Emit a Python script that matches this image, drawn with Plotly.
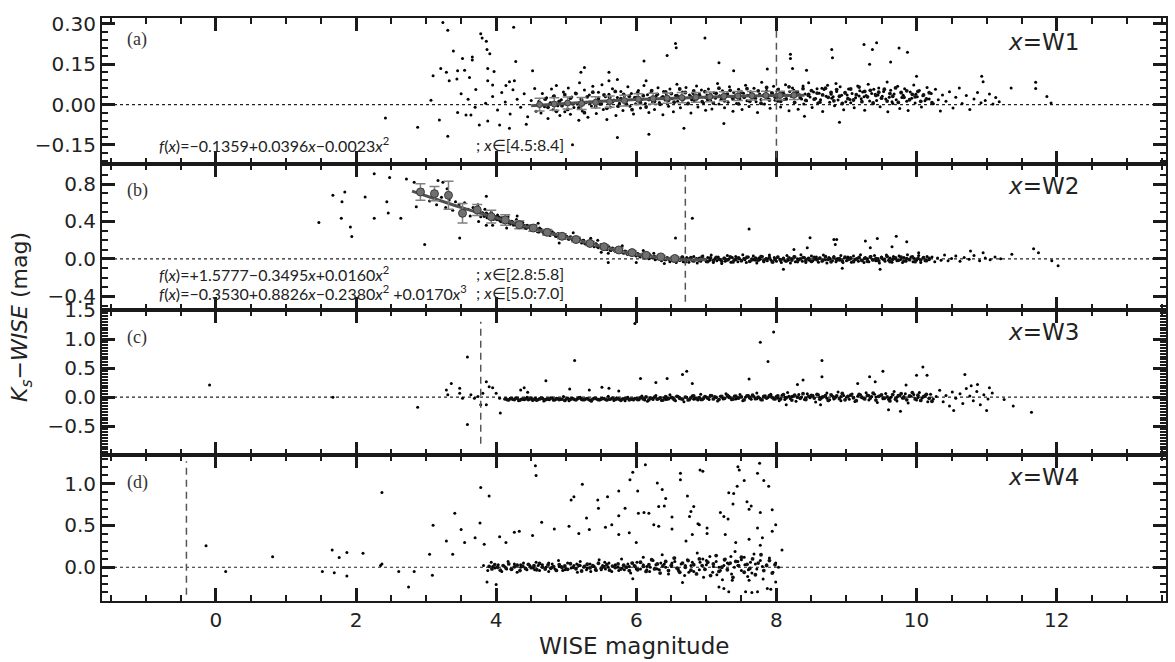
import plotly.graph_objects as go
from plotly.subplots import make_subplots

# ---------------- data ----------------
# panel (a): x = W1
a_x = [2.42, 3.24, 3.31, 3.78, 3.80, 3.86, 3.39, 3.52, 3.66, 3.66, 3.87, 3.91, 4.25, 4.28, 3.21, 3.29, 3.10, 3.45,
       3.55, 3.62, 3.33, 3.44, 3.71, 3.88, 3.97, 4.52, 3.88, 3.95, 4.19, 4.26, 4.14, 3.07, 3.19, 2.88, 3.31, 3.45,
       3.57, 3.64, 3.76, 3.88, 4.05, 4.19, 4.43, 6.11, 6.44, 6.56, 6.57, 6.98, 7.18, 7.39, 7.87, 5.26, 5.21, 5.61,
       5.73, 6.14, 5.61, 7.25, 6.18, 5.73, 6.68, 5.09,
       8.20, 8.20, 8.23, 8.43, 8.79, 8.80, 9.25, 9.37, 9.43, 9.33, 9.63, 9.75, 9.87, 10.0, 10.93, 10.95, 8.90, 8.40,
       11.35, 11.70, 11.70, 11.86, 11.92,
       3.95, 4.02, 4.08, 4.13, 4.20, 4.24, 4.30, 4.35, 4.40, 4.45, 4.50, 4.55, 4.57, 3.60, 3.70, 3.85, 3.50,
       4.61, 4.64, 4.66, 4.69, 4.72, 4.74, 4.77, 4.79, 4.81, 4.83, 4.86, 4.88, 4.91, 4.93, 4.96, 4.98,
       5.01, 5.03, 5.06, 5.08, 5.11, 5.13, 5.16, 5.18, 5.19, 5.21, 5.23, 5.26, 5.28, 5.31, 5.33, 5.36, 5.38,
       5.41, 5.43, 5.46, 5.48, 5.51, 5.53, 5.56, 5.58, 5.59, 5.61, 5.63, 5.66, 5.68, 5.71, 5.73, 5.76, 5.78,
       5.81, 5.83, 5.86, 5.88, 5.91, 5.93, 5.96, 5.98, 5.99, 6.01, 6.03, 6.06, 6.08, 6.11, 6.13, 6.16, 6.18, 6.19,
       6.21, 6.23, 6.26, 6.28, 6.31, 6.33, 6.36, 6.38, 6.39, 6.41, 6.43, 6.46, 6.48, 6.51, 6.53, 6.56, 6.58, 6.59,
       6.61, 6.63, 6.66, 6.68, 6.71, 6.73, 6.76, 6.78, 6.79, 6.81, 6.83, 6.86, 6.88, 6.91, 6.93, 6.96, 6.98, 6.99,
       7.01, 7.03, 7.06, 7.08, 7.11, 7.13, 7.16, 7.18, 7.19, 7.21, 7.23, 7.26, 7.28, 7.31, 7.33, 7.36, 7.38, 7.39,
       7.41, 7.43, 7.46, 7.48, 7.51, 7.53, 7.56, 7.58, 7.59, 7.61, 7.63, 7.66, 7.68, 7.71, 7.73, 7.76, 7.78, 7.79,
       7.81, 7.83, 7.86, 7.88, 7.91, 7.93, 7.96, 7.98, 7.99,
       8.01, 8.03, 8.06, 8.08, 8.11, 8.13, 8.16, 8.18, 8.19, 8.02, 8.21, 8.23, 8.26, 8.28, 8.31, 8.33, 8.36, 8.38,
       8.39, 8.25, 8.41, 8.43, 8.46, 8.48, 8.51, 8.53, 8.56, 8.58, 8.59, 8.45, 8.61, 8.63, 8.66, 8.68, 8.71, 8.73,
       8.76, 8.78, 8.79, 8.65, 8.81, 8.83, 8.86, 8.88, 8.91, 8.93, 8.96, 8.98, 8.99, 8.85,
       9.01, 9.03, 9.06, 9.08, 9.11, 9.13, 9.16, 9.18, 9.19, 9.05, 9.21, 9.23, 9.26, 9.28, 9.31, 9.33, 9.36, 9.38,
       9.39, 9.25, 9.41, 9.43, 9.46, 9.48, 9.51, 9.53, 9.56, 9.58, 9.59, 9.45, 9.61, 9.63, 9.66, 9.68, 9.71, 9.73,
       9.76, 9.78, 9.79, 9.65, 9.81, 9.83, 9.86, 9.88, 9.91, 9.93, 9.96, 9.98, 9.99,
       10.01, 10.04, 10.07, 10.09, 10.12, 10.15, 10.18, 10.21, 10.24, 10.27, 10.31, 10.34, 10.37,
       10.42, 10.47, 10.52, 10.56, 10.61, 10.65, 10.71, 10.76, 10.82, 10.87, 10.92, 10.98, 11.04, 11.09, 11.13, 11.18]
a_y = [-0.050, 0.305, 0.276, 0.263, 0.248, 0.236, 0.199, 0.171, 0.177, 0.166, 0.205, 0.189, 0.288, 0.160, 0.134,
       0.120, 0.107, 0.126, 0.128, 0.101, 0.089, 0.095, 0.056, 0.134, 0.123, 0.126, 0.089, 0.073, 0.085, 0.089,
       0.071, 0.016, -0.057, -0.084, -0.118, -0.029, -0.039, -0.039, -0.076, -0.061, -0.076, -0.088, -0.073,
       0.162, 0.183, 0.227, 0.211, 0.248, 0.156, 0.126, 0.132, 0.138, 0.120, 0.120, 0.093, 0.089, 0.089, -0.070,
       -0.110, -0.122, -0.088, -0.149,
       0.187, 0.171, 0.134, 0.128, 0.205, 0.174, 0.223, 0.205, 0.230, 0.150, 0.158, 0.210, 0.195, 0.105, 0.105,
       0.085, -0.066, -0.043,
       0.062, 0.083, 0.060, 0.030, 0.006,
       0.030, -0.020, 0.045, 0.010, -0.035, 0.055, 0.020, -0.010, 0.040, -0.045, 0.015, 0.060, -0.025, 0.020,
       -0.010, 0.005, 0.040,
       0.012, -0.031, 0.041, -0.008, 0.025, -0.052, 0.006, 0.058, -0.019, 0.033, 0.071, -0.004, -0.041, 0.018,
       0.047, -0.027,
       0.009, 0.062, -0.036, 0.028, -0.011, 0.043, 0.002, -0.058, 0.081, 0.021, -0.024, 0.054, 0.007, -0.047,
       0.036, -0.005, 0.068,
       0.015, -0.033, 0.046, 0.001, 0.074, -0.018, 0.029, -0.055, 0.011, 0.038, -0.009, 0.059, 0.017, -0.041,
       0.026, 0.005, 0.049,
       -0.022, 0.033, 0.012, 0.066, -0.006, 0.041, -0.035, 0.021, 0.003, 0.028, 0.052, -0.013, 0.019, 0.071,
       0.004, 0.037, -0.029, 0.024,
       0.045, 0.011, -0.018, 0.031, 0.063, 0.008, 0.026, -0.038, 0.049, 0.017, 0.039, -0.006, 0.058, 0.022,
       -0.027, 0.034, 0.076, 0.012,
       0.029, -0.012, 0.047, 0.021, 0.064, 0.003, 0.036, -0.031, 0.018, 0.041, 0.013, 0.069, -0.009, 0.032,
       0.054, 0.006, 0.027, -0.021,
       0.036, 0.058, 0.015, -0.016, 0.044, 0.024, 0.078, 0.002, 0.033, 0.019, 0.051, -0.012, 0.038, 0.009,
       0.066, 0.028, -0.025, 0.045,
       0.031, 0.004, 0.057, 0.021, -0.018, 0.042, 0.072, 0.014, 0.035, -0.007, 0.048, 0.026, 0.061, 0.011,
       -0.029, 0.039, 0.019, 0.083,
       0.033, 0.002, 0.052, 0.024, -0.014, 0.044, 0.068, 0.016, 0.037,
       0.027, 0.058, -0.009, 0.041, 0.019, 0.074, 0.035, -0.023, 0.049, 0.012, 0.031, 0.062, 0.008, 0.045,
       -0.017, 0.037, 0.021, 0.069, 0.002, 0.053, 0.039, 0.014, 0.081, 0.028, -0.011, 0.047, 0.023, 0.059,
       0.006, 0.034, 0.042, 0.018, -0.026, 0.056, 0.031, 0.072, 0.009, 0.038, 0.024, 0.061, 0.029, -0.004,
       0.049, 0.017, 0.066, 0.035, -0.019, 0.043, 0.011, 0.078,
       0.036, 0.058, 0.007, 0.041, -0.012, 0.025, 0.069, 0.032, 0.051, 0.019, 0.022, 0.047, -0.021, 0.034,
       0.076, 0.013, 0.041, 0.003, 0.057, 0.029, 0.038, 0.015, 0.062, -0.008, 0.031, 0.049, 0.021, 0.084,
       -0.027, 0.036, 0.027, 0.053, 0.004, 0.039, 0.018, 0.068, -0.015, 0.044, 0.026, 0.011, 0.035, 0.059,
       0.012, -0.022, 0.047, 0.024, 0.073, 0.006, 0.038,
       0.029, 0.052, -0.009, 0.033, 0.014, 0.064, 0.021, 0.041, 0.003, 0.057, 0.018, -0.024, 0.036,
       0.012, 0.048, -0.013, 0.027, 0.062, 0.004, 0.034, -0.018, 0.021, 0.045, 0.007, 0.015, 0.039, 0.002,
       0.026, 0.011]
# dense core of the (a) band
a_core_x = [4.70, 4.74, 4.78, 4.82, 4.86, 4.90, 4.94, 4.98, 5.02, 5.06, 5.10, 5.14, 5.18, 5.22, 5.26, 5.30, 5.34,
            5.38, 5.42, 5.46, 5.50, 5.54, 5.58, 5.62, 5.66, 5.70, 5.74, 5.78, 5.82, 5.86, 5.90, 5.94, 5.98, 6.02,
            6.06, 6.10, 6.14, 6.18, 6.22, 6.26, 6.30, 6.34, 6.38, 6.42, 6.46, 6.50, 6.54, 6.58, 6.62, 6.66, 6.70,
            6.74, 6.78, 6.82, 6.86, 6.90, 6.94, 6.98, 7.02, 7.06, 7.10, 7.14, 7.18, 7.22, 7.26, 7.30, 7.34, 7.38,
            7.42, 7.46, 7.50, 7.54, 7.58, 7.62, 7.66, 7.70, 7.74, 7.78, 7.82, 7.86, 7.90, 7.94, 7.98, 8.02, 8.06,
            8.10, 8.14, 8.18, 8.22, 8.26, 8.30, 8.34, 8.38, 8.42, 8.46, 8.50, 8.54, 8.58, 8.62, 8.66, 8.70, 8.74,
            8.78, 8.82, 8.86, 8.90, 8.94, 8.98, 9.02, 9.06, 9.10, 9.14, 9.18, 9.22, 9.26, 9.30, 9.34, 9.38, 9.42,
            9.46, 9.50, 9.54, 9.58, 9.62, 9.66, 9.70, 9.74, 9.78, 9.82, 9.86, 9.90, 9.94, 9.98, 10.02, 10.06,
            10.10, 10.14, 10.18, 10.22, 10.26]
a_core_y = [0.02, -0.01, 0.005, 0.03, -0.025, 0.012, -0.004, 0.037,
            -0.018, 0.024, 0.003, 0.041, -0.012, 0.017, -0.03, 0.029, 0.008, 0.046, -0.008, 0.021,
            0.003, 0.036, -0.014, 0.027, 0.011, 0.049, -0.006, 0.022, 0.038, 0.001, 0.031, -0.019,
            0.026, 0.044, 0.007, 0.033, -0.009, 0.019, 0.052, 0.012, 0.038, 0.001, 0.029, 0.047, 0.016,
            0.041, 0.009, 0.033, 0.058, 0.018, 0.045, 0.004, 0.029, 0.051, 0.022, 0.037, 0.011,
            0.048, 0.019, 0.036, 0.006, 0.042, 0.061, 0.025, 0.014, 0.039, 0.053, 0.021, 0.032, 0.003,
            0.046, 0.027, 0.059, 0.012, 0.038, 0.022, 0.051, 0.005, 0.034, 0.064, 0.017, 0.043,
            0.028, 0.055, 0.012, 0.041, 0.021, 0.066, 0.033, 0.008, 0.047, 0.025, 0.059, 0.016, 0.038,
            0.052, 0.02, 0.043, 0.009, 0.036, 0.061, 0.027, 0.045, 0.014, 0.056, 0.031, 0.004,
            0.044, 0.022, 0.058, 0.017, 0.037, 0.065, 0.011, 0.049, 0.029, 0.053, 0.006, 0.034, 0.046,
            0.024, 0.057, 0.013, 0.041, 0.031, 0.062, 0.008, 0.045, 0.027, 0.051, 0.018, 0.038,
            0.029, 0.049, 0.012, 0.036, 0.021, 0.044, 0.007]
a_fit_x = [4.5, 5.0, 5.5, 6.0, 6.5, 7.0, 7.5, 8.0, 8.4]
a_fit_y = [-0.004, 0.005, 0.012, 0.019, 0.024, 0.029, 0.032, 0.034, 0.035]
a_bin_x = [4.62, 4.83, 5.02, 5.22, 5.42, 5.62, 5.83, 6.03, 6.24, 6.44, 6.65, 6.85, 7.05, 7.25, 7.45, 7.65, 7.85,
           8.05, 8.25]
a_bin_y = [0.000, 0.002, 0.006, 0.004, 0.008, 0.011, 0.015, 0.020, 0.022, 0.024, 0.026, 0.027, 0.029, 0.031,
           0.032, 0.033, 0.034, 0.034, 0.035]
a_bin_err = [0.024, 0.023, 0.022, 0.022, 0.021, 0.021, 0.020, 0.020, 0.020, 0.019, 0.019, 0.018, 0.018, 0.017,
             0.017, 0.016, 0.016, 0.016, 0.016]

# panel (b): x = W2
b_x = [1.47, 1.67, 1.84, 1.80, 2.13, 1.79, 1.92, 1.94, 2.26, 2.44, 2.46, 2.26, 2.48,
       2.72, 2.83, 3.17, 3.24, 2.86, 2.98, 3.48, 3.86, 2.64, 6.80, 7.61, 6.56, 5.60,
       8.48, 8.82, 8.86, 8.84, 9.27, 9.44, 9.71, 9.86, 9.34, 9.65, 8.25, 8.44, 11.67, 11.74, 12.02, 8.10, 8.94,
       9.48, 10.95, 11.36, 10.77, 10.03, 11.93,
       2.95, 3.05, 3.10, 3.15, 3.22, 3.28, 3.33, 3.38, 3.42, 3.47, 3.52, 3.55, 3.60, 3.63, 3.67, 3.71, 3.74,
       3.78, 3.81, 3.84, 3.87, 3.90, 3.93, 3.96, 3.99, 4.02, 4.05, 4.08, 4.11, 4.14, 4.17, 4.20, 4.23, 4.26,
       4.29, 4.32, 4.35, 4.38, 4.41, 4.44, 4.47, 4.50, 4.53, 4.56, 4.59, 4.62, 4.65, 4.68, 4.71, 4.74, 4.77,
       4.80, 4.83, 4.86, 4.89, 4.92, 4.95, 4.98, 5.01, 5.04, 5.07, 5.10, 5.13, 5.16, 5.19, 5.22, 5.25, 5.28,
       5.31, 5.34, 5.37, 5.40, 5.43, 5.46, 5.49, 5.52, 5.55, 5.58, 5.61, 5.64, 5.67, 5.70, 5.73, 5.76, 5.79,
       5.82, 5.85, 5.88, 5.91, 5.94, 5.97, 6.00, 6.03, 6.06, 6.09, 6.12, 6.15, 6.18, 6.21, 6.24, 6.27, 6.30,
       6.33, 6.36, 6.39, 6.42, 6.45, 6.48, 6.51,
       3.30, 3.86, 5.35, 4.60, 4.30, 5.80, 6.10, 5.10, 4.90, 5.60, 6.00, 4.15, 3.95, 3.75, 5.45, 6.25, 6.40, 5.50,
       6.52, 6.55, 6.57, 6.60, 6.62, 6.65, 6.67, 6.70, 6.72, 6.75, 6.77, 6.80, 6.82, 6.85, 6.87, 6.90, 6.92,
       6.95, 6.97, 7.00, 7.02, 7.05, 7.07, 7.10, 7.12, 7.15, 7.17, 7.20, 7.22, 7.25, 7.27, 7.30, 7.32, 7.35,
       7.37, 7.40, 7.42, 7.45, 7.47, 7.50, 7.52, 7.55, 7.57, 7.60, 7.62, 7.65, 7.67, 7.70, 7.72, 7.75, 7.77,
       7.80, 7.82, 7.85, 7.87, 7.90, 7.92, 7.95, 7.97, 8.00, 8.02, 8.05, 8.07, 8.10, 8.12, 8.15, 8.17, 8.20,
       8.22, 8.25, 8.27, 8.30, 8.32, 8.35, 8.37, 8.40, 8.42, 8.45, 8.47, 8.50, 8.52, 8.55, 8.57, 8.60, 8.62,
       8.65, 8.67, 8.70, 8.72, 8.75, 8.77, 8.80, 8.82, 8.85, 8.87, 8.90, 8.92, 8.95, 8.97, 9.00, 9.02, 9.05,
       9.07, 9.10, 9.12, 9.15, 9.17, 9.20, 9.22, 9.25, 9.27, 9.30, 9.32, 9.35, 9.37, 9.40, 9.42, 9.45, 9.47,
       9.50, 9.52, 9.55, 9.57, 9.60, 9.62, 9.65, 9.67, 9.70, 9.72, 9.75, 9.77, 9.80, 9.82, 9.85, 9.87, 9.90,
       9.92, 9.95, 9.97, 10.00, 10.03, 10.06, 10.09, 10.12, 10.15, 10.18,
       10.22, 10.26, 10.30, 10.35, 10.40, 10.45, 10.50, 10.56, 10.62, 10.68, 10.75, 10.82, 10.90, 10.98, 11.05,
       11.12, 11.20]
b_y = [0.39, 0.68, 0.716, 0.61, 0.663, 0.435, 0.34, 0.24, 0.435, 0.61, 0.49, 0.91, 0.87,
       0.856, 0.82, 0.84, 0.82, 0.558, 0.154, 0.224, 0.67, 0.435, 0.435, 0.319, 0.224, -0.04,
       0.225, 0.207, 0.207, 0.154, 0.19, 0.218, 0.243, 0.183, 0.119, 0.13, 0.101, 0.119, 0.108, 0.066, -0.074,
       -0.11, -0.10, -0.11, 0.066, 0.05, 0.084, 0.066, -0.021,
       0.74, 0.62, 0.71, 0.58, 0.66, 0.55, 0.63, 0.52, 0.61, 0.58, 0.49, 0.60, 0.53, 0.46, 0.55, 0.51, 0.58,
       0.45, 0.49, 0.53, 0.44, 0.47, 0.50, 0.42, 0.45, 0.47, 0.41, 0.44, 0.39, 0.42, 0.45, 0.37, 0.40, 0.38,
       0.42, 0.35, 0.37, 0.39, 0.33, 0.36, 0.34, 0.31, 0.35, 0.32, 0.29, 0.33, 0.30, 0.27, 0.31, 0.28, 0.25,
       0.29, 0.26, 0.24, 0.27, 0.23, 0.25, 0.22, 0.24, 0.21, 0.23, 0.20, 0.22, 0.19, 0.21, 0.17, 0.20, 0.16,
       0.18, 0.15, 0.17, 0.13, 0.16, 0.12, 0.15, 0.11, 0.14, 0.10, 0.13, 0.09, 0.11, 0.08, 0.10, 0.07, 0.09,
       0.06, 0.08, 0.05, 0.07, 0.04, 0.06, 0.03, 0.05, 0.02, 0.04, 0.01, 0.03, 0.00, 0.02, 0.01, -0.01, 0.02,
       0.00, -0.02, 0.01, -0.01, 0.00, -0.03, 0.01,
       0.75, 0.36, 0.22, 0.38, 0.46, 0.14, 0.09, 0.28, 0.17, 0.06, -0.04, 0.33, 0.36, 0.40, 0.20, 0.06, -0.05, 0.07,
       -0.02, 0.01, -0.04, 0.00, -0.015, 0.02, -0.03, -0.005, 0.015, -0.035, 0.005, -0.02, 0.025, -0.01, -0.045,
       0.01, -0.025, 0.03, -0.005, -0.03, 0.015, -0.015, 0.04, -0.04, 0.00, -0.02, 0.02, -0.01, -0.05, 0.01,
       -0.025, 0.035, -0.005, -0.035, 0.015, -0.015, 0.025, -0.03, 0.005, -0.02, 0.045, -0.01, -0.04, 0.02,
       -0.025, 0.00, 0.03, -0.015, -0.045, 0.01, -0.005, 0.025, -0.03, 0.005, -0.02, 0.04, -0.01, -0.035,
       0.015, -0.025, 0.02, -0.005, -0.04, 0.01, -0.02, 0.035, -0.015, -0.045, 0.005, 0.025, -0.03, 0.00,
       -0.01, 0.045, -0.025, 0.015, -0.04, 0.005, -0.015, 0.03, -0.02, -0.005, 0.02, -0.035, 0.01, -0.025,
       0.04, -0.01, -0.045, 0.015, 0.00, -0.02, 0.025, -0.03, 0.005, -0.015, 0.035, -0.04, 0.01, -0.02, 0.02,
       -0.005, -0.035, 0.03, -0.01, 0.005, -0.025, 0.045, -0.015, -0.04, 0.015, 0.00, -0.03, 0.025, -0.01,
       0.035, -0.02, 0.005, -0.045, 0.02, -0.005, -0.025, 0.04, -0.015, 0.01, -0.035, 0.025, 0.00, -0.02,
       0.03, -0.01, -0.04, 0.015, -0.025, 0.045, -0.005, 0.02, -0.03, 0.005, -0.015, 0.035, -0.04, 0.01,
       -0.02, 0.025, -0.01,
       0.02, -0.03, 0.01, -0.015, 0.04, -0.02, 0.005, 0.03, -0.025, 0.015, -0.005, 0.035, -0.02, 0.01, -0.01,
       0.02, 0.00]
# dense core of the (b) sequence: along the curve, then the flat part
b_core_x = [3.80, 3.83, 3.86, 3.89, 3.92, 3.95, 3.98, 4.01, 4.04, 4.07, 4.10, 4.13, 4.16, 4.19, 4.22, 4.25, 4.28,
            4.31, 4.34, 4.37, 4.40, 4.43, 4.46, 4.49, 4.52, 4.55, 4.58, 4.61, 4.64, 4.67, 4.70, 4.73, 4.76, 4.79,
            4.82, 4.85, 4.88, 4.91, 4.94, 4.97, 5.00, 5.03, 5.06, 5.09, 5.12, 5.15, 5.18, 5.21, 5.24, 5.27, 5.30,
            5.33, 5.36, 5.39, 5.42, 5.45, 5.48, 5.51, 5.54, 5.57, 5.60, 5.63, 5.66, 5.69, 5.72, 5.75, 5.78, 5.81,
            5.84, 5.87, 5.90, 5.93, 5.96, 5.99, 6.02, 6.05, 6.08, 6.11, 6.14, 6.17, 6.20, 6.23, 6.26, 6.29, 6.32,
            6.35, 6.38, 6.41, 6.44, 6.47, 6.50,
            6.54, 6.58, 6.62, 6.66, 6.70, 6.74, 6.78, 6.82, 6.86, 6.90, 6.94, 6.98, 7.02, 7.06, 7.10, 7.14, 7.18,
            7.22, 7.26, 7.30, 7.34, 7.38, 7.42, 7.46, 7.50, 7.54, 7.58, 7.62, 7.66, 7.70, 7.74, 7.78, 7.82, 7.86,
            7.90, 7.94, 7.98, 8.02, 8.06, 8.10, 8.14, 8.18, 8.22, 8.26, 8.30, 8.34, 8.38, 8.42, 8.46, 8.50, 8.54,
            8.58, 8.62, 8.66, 8.70, 8.74, 8.78, 8.82, 8.86, 8.90, 8.94, 8.98, 9.02, 9.06, 9.10, 9.14, 9.18, 9.22,
            9.26, 9.30, 9.34, 9.38, 9.42, 9.46, 9.50, 9.54, 9.58, 9.62, 9.66, 9.70, 9.74, 9.78, 9.82, 9.86, 9.90,
            9.94, 9.98, 10.02, 10.06, 10.10, 10.14, 10.18]
b_core_y = [0.490, 0.459, 0.487, 0.455, 0.466, 0.429, 0.446, 0.424, 0.443, 0.401, 0.418, 0.395, 0.415, 0.388,
            0.398, 0.365, 0.383, 0.365, 0.381, 0.344, 0.355, 0.329, 0.349, 0.324, 0.339, 0.309, 0.316, 0.291,
            0.313, 0.291, 0.298, 0.270, 0.292, 0.265, 0.273, 0.245, 0.265, 0.244, 0.252, 0.222, 0.238, 0.216,
            0.233, 0.210, 0.218, 0.188, 0.206, 0.185, 0.195, 0.165, 0.176, 0.151, 0.168, 0.148, 0.158, 0.130,
            0.139, 0.116, 0.133, 0.112, 0.120, 0.095, 0.111, 0.092, 0.099, 0.076, 0.091, 0.071, 0.080, 0.056,
            0.068, 0.048, 0.062, 0.044, 0.052, 0.030, 0.045, 0.028, 0.036, 0.017, 0.032, 0.015, 0.024, 0.003,
            0.019, 0.003, 0.012, -0.006, 0.011, -0.005, 0.005,
            -0.02, 0.005, -0.012, 0.018, -0.03, -0.004, 0.012, -0.022, 0.0, -0.015,
            0.022, -0.008, -0.028, 0.009, -0.018, 0.015, -0.002, -0.025, 0.006, -0.011,
            0.02, -0.033, -0.006, 0.011, -0.019, 0.003, 0.017, -0.026, -0.009, 0.008,
            -0.014, 0.024, -0.021, -0.003, 0.013, -0.031, -0.007, 0.019, -0.016, 0.002,
            -0.024, 0.01, -0.012, 0.021, -0.029, -0.001, 0.014, -0.02, 0.004, -0.027,
            0.016, -0.01, 0.007, -0.018, 0.023, -0.005, -0.032, 0.012, -0.013, 0.001,
            -0.023, 0.018, -0.008, 0.009, -0.03, -0.002, 0.015, -0.017, 0.005, -0.026,
            0.02, -0.011, 0.003, -0.021, 0.013, -0.006, 0.025, -0.028, -0.004, 0.01,
            -0.015, 0.017, -0.022, 0.001, -0.009, 0.022, -0.03, 0.006, -0.013, 0.012,
            -0.019, 0.004]
b_fit_x = [2.8, 3.0, 3.2, 3.4, 3.6, 3.8, 4.0, 4.2, 4.4, 4.6, 4.8, 5.0, 5.2, 5.4, 5.6, 5.8, 6.0, 6.2, 6.4, 6.6,
           6.8, 7.0]
b_fit_y = [0.725, 0.673, 0.623, 0.574, 0.527, 0.481, 0.436, 0.392, 0.350, 0.309, 0.269, 0.232, 0.191, 0.150,
           0.111, 0.077, 0.047, 0.022, 0.004, -0.008, -0.011, -0.006]
b_bin_x = [2.92, 3.12, 3.32, 3.52, 3.73, 3.93, 4.13, 4.33, 4.53, 4.73, 4.94, 5.14, 5.34, 5.54, 5.75, 5.94, 6.14,
           6.35, 6.55]
b_bin_y = [0.716, 0.698, 0.680, 0.488, 0.523, 0.452, 0.417, 0.365, 0.330, 0.284, 0.242, 0.207, 0.165, 0.130,
           0.095, 0.067, 0.039, 0.021, 0.004]
b_bin_err = [0.088, 0.077, 0.150, 0.105, 0.058, 0.067, 0.056, 0.044, 0.035, 0.030, 0.028, 0.025, 0.022, 0.020,
             0.020, 0.018, 0.018, 0.016, 0.016]

# panel (c): x = W3
c_x = [-0.09, 1.67, 3.59, 5.12, 5.98, 6.06, 6.28, 6.44, 6.66, 6.72, 7.77, 7.88, 7.96, 7.61, 6.80, 4.71, 5.05,
       5.33, 5.51, 5.61, 5.75, 3.59, 4.06, 2.88, 3.36, 3.29, 3.48, 3.86, 3.90, 3.95, 4.00, 4.05, 3.86, 4.40, 4.45,
       4.35, 3.64, 3.69, 3.74, 3.81, 3.78, 3.48, 3.31, 3.52,
       8.65, 8.65, 8.30, 8.38, 9.33, 9.52, 10.09, 10.0, 10.15, 10.69, 10.78, 10.87, 11.04, 9.16, 9.41, 9.85, 9.60,
       9.77, 10.53, 11.0, 8.63, 8.14,
       4.12, 4.16, 4.20, 4.24, 4.28, 4.32, 4.36, 4.40, 4.44, 4.48, 4.52, 4.56, 4.60, 4.64, 4.68, 4.72, 4.76,
       4.80, 4.84, 4.88, 4.92, 4.96, 5.00, 5.04, 5.08, 5.12, 5.16, 5.20, 5.24, 5.28, 5.32, 5.36, 5.40, 5.44,
       5.48, 5.52, 5.56, 5.60, 5.64, 5.68, 5.72, 5.76, 5.80, 5.84, 5.88, 5.92, 5.96, 6.00, 6.04, 6.08, 6.12,
       6.16, 6.20, 6.24, 6.28, 6.32, 6.36, 6.40, 6.44, 6.48, 6.52, 6.56, 6.60, 6.64, 6.68, 6.72, 6.76, 6.80,
       6.84, 6.88, 6.92, 6.96, 7.00, 7.04, 7.08, 7.12, 7.16, 7.20, 7.24, 7.28, 7.32, 7.36, 7.40, 7.44, 7.48,
       7.52, 7.56, 7.60, 7.64, 7.68, 7.72, 7.76, 7.80, 7.84, 7.88, 7.92, 7.96, 8.00, 8.04, 8.08, 8.12, 8.16,
       8.20, 8.24, 8.28, 8.32, 8.36, 8.40, 8.44, 8.48, 8.52, 8.56, 8.60, 8.64, 8.68, 8.72, 8.76, 8.80, 8.84,
       8.88, 8.92, 8.96, 9.00, 9.04, 9.08, 9.12, 9.16, 9.20, 9.24, 9.28, 9.32, 9.36, 9.40, 9.44, 9.48, 9.52,
       9.56, 9.60, 9.64, 9.68, 9.72, 9.76, 9.80, 9.84, 9.88, 9.92, 9.96, 10.00, 10.04, 10.08, 10.12, 10.16,
       10.20, 10.24, 10.28,
       6.02, 6.22, 6.42, 6.62, 6.82, 7.02, 7.22, 7.42, 7.62, 7.82, 8.02, 8.22, 8.42, 8.62, 8.82, 9.02, 9.22,
       9.42, 9.62, 9.82, 10.02, 6.12, 6.52, 6.92, 7.32, 7.72, 8.12, 8.52, 8.92, 9.32, 9.72, 10.12, 7.12, 7.92,
       8.72, 9.52,
       10.33, 10.38, 10.42, 10.47, 10.51, 10.56, 10.62, 10.66, 10.71, 10.76, 10.81, 10.86, 10.91, 10.96, 11.02,
       11.08, 11.25, 11.38, 11.64]
c_y = [0.21, 0.0, 0.69, 0.633, 1.27, 0.322, 0.254, 0.322, 0.39, 0.446, 0.944, 0.616, 1.124, 0.311, 0.237, 0.282,
       0.141, 0.124, 0.169, 0.152, 0.107, -0.469, -0.271, -0.175, 0.237, 0.124, 0.153, 0.265, 0.181, 0.164, 0.068,
       -0.017, -0.13, 0.164, 0.085, 0.124, 0.04, -0.017, 0.01, 0.068, -0.13, 0.068, 0.04, -0.017,
       0.633, 0.35, 0.22, 0.294, 0.35, 0.446, 0.52, 0.378, 0.378, 0.39, 0.198, 0.22, 0.164, 0.237, 0.265, 0.209,
       -0.215, -0.243, -0.231, -0.231, -0.13, -0.13,
       -0.03, -0.05, -0.02, -0.04, -0.01, -0.06, -0.03, -0.045, 0.0, -0.035, -0.055, -0.02, -0.04, -0.01,
       -0.065, -0.03, -0.045, -0.015, -0.05, -0.025, -0.04, 0.01, -0.035, -0.06, -0.02, -0.045, -0.03, 0.0,
       -0.05, -0.025, -0.04, -0.07, -0.015, -0.035, -0.05, -0.02, -0.04, 0.015, -0.03, -0.055, -0.01, -0.04,
       -0.025, -0.06, 0.0, -0.035, -0.05, -0.02, -0.045, 0.02, -0.03, -0.07, -0.01, -0.04, 0.03, -0.025,
       -0.055, -0.005, -0.035, 0.04, -0.02, -0.06, 0.01, -0.03, -0.08, 0.0, -0.045, 0.025, -0.015, -0.05,
       0.05, -0.025, 0.005, -0.04, 0.03, -0.01, -0.065, 0.015, -0.03, 0.06, -0.005, -0.045, 0.02, -0.02,
       0.045, -0.06, 0.0, 0.03, -0.035, 0.01, 0.07, -0.015, -0.05, 0.025, -0.005, 0.05, -0.03, 0.015, -0.06,
       0.035, 0.0, 0.08, -0.025, 0.02, -0.07, 0.045, 0.005, -0.04, 0.06, -0.01, 0.025, -0.085, 0.04, -0.02,
       0.01, 0.07, -0.045, 0.02, -0.015, 0.09, -0.06, 0.03, 0.0, -0.035, 0.055, -0.075, 0.015, 0.04, -0.02,
       0.075, -0.05, 0.01, 0.05, -0.09, 0.025, -0.01, 0.065, -0.04, 0.005, 0.10, -0.065, 0.03, -0.02, 0.06,
       -0.10, 0.015, 0.045, -0.05, 0.08, -0.015, 0.03, -0.08, 0.05, -0.03, 0.01,
       -0.03, -0.02, -0.04, -0.015, -0.035, -0.02, 0.0, -0.03, -0.01, 0.0, -0.02, 0.01, -0.015, 0.0, -0.03,
       0.02, -0.01, 0.005, -0.02, 0.01, -0.005, -0.05, -0.01, -0.045, 0.02, -0.025, -0.04, 0.03, 0.01, 0.03,
       0.0, 0.02, 0.01, 0.02, -0.02, -0.025,
       0.12, -0.08, 0.03, -0.15, 0.09, -0.02, 0.06, -0.11, 0.15, 0.02, -0.06, 0.10, -0.13, 0.04, -0.03, 0.07,
       -0.04, -0.15, -0.26]
c_core_x = [4.14, 4.18, 4.22, 4.26, 4.30, 4.34, 4.38, 4.42, 4.46, 4.50, 4.54, 4.58, 4.62, 4.66, 4.70, 4.74, 4.78,
            4.82, 4.86, 4.90, 4.94, 4.98, 5.02, 5.06, 5.10, 5.14, 5.18, 5.22, 5.26, 5.30, 5.34, 5.38, 5.42, 5.46,
            5.50, 5.54, 5.58, 5.62, 5.66, 5.70, 5.74, 5.78, 5.82, 5.86, 5.90, 5.94, 5.98,
            6.02, 6.06, 6.10, 6.14, 6.18, 6.22, 6.26, 6.30, 6.34, 6.38, 6.42, 6.46, 6.50, 6.54, 6.58, 6.62, 6.66,
            6.70, 6.74, 6.78, 6.82, 6.86, 6.90, 6.94, 6.98, 7.02, 7.06, 7.10, 7.14, 7.18, 7.22, 7.26, 7.30, 7.34,
            7.38, 7.42, 7.46, 7.50, 7.54, 7.58, 7.62, 7.66, 7.70, 7.74, 7.78, 7.82, 7.86, 7.90, 7.94, 7.98,
            8.02, 8.06, 8.10, 8.14, 8.18, 8.22, 8.26, 8.30, 8.34, 8.38, 8.42, 8.46, 8.50, 8.54, 8.58, 8.62, 8.66,
            8.70, 8.74, 8.78, 8.82, 8.86, 8.90, 8.94, 8.98, 9.02, 9.06, 9.10, 9.14, 9.18, 9.22, 9.26, 9.30, 9.34,
            9.38, 9.42, 9.46, 9.50, 9.54, 9.58, 9.62, 9.66, 9.70, 9.74, 9.78, 9.82, 9.86, 9.90, 9.94, 9.98, 10.02,
            10.06, 10.10, 10.14, 10.18, 10.22]
c_core_y = [-0.03, -0.045, -0.025, -0.04, -0.02, -0.05, -0.035, -0.028, -0.042, -0.018,
            -0.038, -0.052, -0.03, -0.022, -0.044, -0.034, -0.015, -0.048, -0.027, -0.04,
            -0.032, -0.055, -0.021, -0.037, -0.029, -0.046, -0.012, -0.036, -0.041, -0.026,
            -0.05, -0.033, -0.019, -0.043, -0.031, -0.024, -0.047, -0.035, -0.016, -0.039,
            -0.028, -0.053, -0.03, -0.02, -0.044, -0.034, -0.025,
            -0.04, -0.01, -0.03, 0.005, -0.045, -0.02, 0.0, -0.035, -0.012, -0.05,
            0.01, -0.025, -0.005, -0.04, 0.015, -0.018, -0.032, 0.002, -0.048, -0.01,
            0.02, -0.028, -0.006, -0.038, 0.008, -0.015, 0.025, -0.03, -0.002, -0.042,
            0.012, -0.02, 0.03, -0.008, -0.035, 0.018, -0.014, 0.004, -0.045, 0.022,
            -0.01, 0.035, -0.025, 0.0, -0.04, 0.014, -0.016, 0.028, -0.005, -0.03,
            0.02, -0.03, 0.045, -0.01, 0.01, -0.05, 0.035, 0.0, -0.02, 0.06,
            -0.04, 0.015, 0.03, -0.015, 0.05, -0.035, 0.005, 0.025, -0.055, 0.04,
            -0.005, 0.02, -0.025, 0.065, -0.045, 0.01, 0.035, -0.01, -0.06, 0.05,
            0.0, -0.03, 0.03, -0.015, 0.07, -0.05, 0.015, 0.04, -0.02, 0.005,
            -0.065, 0.045, -0.035, 0.025, 0.06, -0.01, -0.045, 0.02, 0.08, -0.03,
            0.035, -0.055, 0.01, 0.05, -0.02, -0.07]

# panel (d): x = W4
d_x = [-0.14, 0.14, 0.81, 1.52, 1.66, 1.69, 1.76, 1.87, 1.87, 2.10, 2.37, 2.37, 2.35, 2.61,
       2.75, 2.83, 3.05, 3.10, 3.09, 3.29, 3.41, 3.38, 3.50, 3.55, 3.70, 3.78, 3.77, 3.83, 3.90, 3.87, 4.00,
       4.05, 4.14, 4.26, 4.33, 4.56, 4.57, 4.52, 4.65, 4.83, 5.04, 5.07, 5.11, 5.23, 5.29, 5.45, 5.46, 5.59,
       5.65, 5.75, 5.84, 5.75, 5.95, 5.91, 6.13, 6.02, 6.11, 6.18, 6.30, 6.37, 6.32, 6.40, 6.25, 6.32, 6.42,
       6.63, 6.63, 6.51, 6.51, 6.73, 6.78, 6.82, 6.76, 6.91, 6.95, 6.88, 6.90, 7.01, 7.20, 7.25, 7.31, 7.38,
       7.32, 7.39, 7.45, 7.47, 7.54, 7.44, 7.58, 7.64, 7.61, 7.76, 7.73, 7.82, 7.89, 7.77, 7.94, 7.99, 7.73,
       7.80, 7.77, 7.61, 7.42, 7.27, 7.01, 5.18, 5.33, 5.56, 5.75, 5.90, 6.00, 6.03, 6.80, 6.71, 7.94, 8.08,
       7.56, 7.65, 7.73, 7.87, 7.92, 7.32, 7.25, 7.18, 7.99, 7.37, 6.66, 5.95, 7.61,
       3.82, 3.88, 3.93, 3.98, 4.03, 4.08, 4.12, 4.17, 4.21, 4.26, 4.30, 4.35, 4.39, 4.44, 4.48, 4.53, 4.57,
       4.62, 4.66, 4.71, 4.75, 4.80, 4.84, 4.89, 4.93, 4.98, 5.02, 5.07, 5.11, 5.16, 5.20, 5.25, 5.29, 5.34,
       5.38, 5.43, 5.47, 5.52, 5.56, 5.61, 5.65, 5.70, 5.74, 5.79, 5.83, 5.88, 5.92, 5.97, 6.01, 6.06, 6.10,
       6.15, 6.19, 6.24, 6.28, 6.33, 6.37, 6.42, 6.46, 6.51, 6.55, 6.60, 6.64, 6.69, 6.73, 6.78, 6.82, 6.87,
       6.91, 6.96, 7.00, 7.05, 7.09, 7.14, 7.18, 7.23, 7.27, 7.32, 7.36, 7.41, 7.45, 7.50, 7.54, 7.59, 7.63,
       7.68, 7.72, 7.77, 7.81, 7.86, 7.90, 7.95, 7.99, 8.03,
       4.50, 4.60, 4.70, 4.80, 4.90, 5.00, 5.10, 5.20, 5.30, 5.40, 5.50, 5.60, 5.70, 5.80, 5.90, 6.00, 6.10,
       6.20, 6.30, 6.40, 6.50, 6.60, 6.70, 6.80, 6.90, 7.00, 7.10, 7.20, 7.30, 7.40, 7.50, 7.60, 7.70, 7.80,
       7.35, 7.45, 7.55, 7.65, 7.25, 7.15, 6.95, 6.75, 6.55, 6.35, 6.15, 5.95, 5.75, 5.55, 5.35, 5.15, 4.95,
       4.75, 4.55, 4.35, 4.15, 3.95]
d_y = [0.256, -0.05, 0.126, -0.05, 0.208, -0.066, 0.118, 0.177, -0.105, 0.169, 0.895, 0.04, 0.02, -0.05,
       -0.235, -0.05, 0.157, 0.503, -0.097, 0.314, 0.648, 0.157, 0.452, 0.295, 0.354, 0.954, 0.53, 0.275,
       0.852, -0.176, -0.207, 0.365, 0.295, 0.42, 0.432, 1.216, 1.099, 0.381, 0.538, 0.459, 0.491, 0.805,
       0.844, 0.993, 0.589, 0.805, 0.707, 0.844, 0.51, 0.914, 0.707, 0.616, 1.138, 1.048, 1.228, 0.914, 0.656,
       0.648, 1.008, 0.93, 0.726, 0.734, 0.51, 0.491, 0.824, 1.126, 1.048, 0.601, 0.459, 0.852, 0.667, 0.726,
       0.608, 1.165, 1.15, 0.522, 0.51, 0.405, 0.656, 0.608, 0.577, 0.757, 0.891, 0.883, 1.204, 1.165, 1.04,
       0.969, 0.785, 0.734, 0.695, 1.244, 1.126, 1.04, 0.969, 0.656, 0.687, 0.51, 0.471, 0.353, 0.263, 0.334,
       0.295, 0.393, 0.471, 0.405, 0.452, 0.479, 0.393, 0.412, 0.295, 0.648, 0.393, 0.314, 0.432, 0.208,
       -0.294, -0.301, -0.294, -0.254, -0.262, -0.294, -0.254, -0.235, -0.176, -0.156, -0.184, -0.137, -0.156,
       0.02, -0.04, 0.06, -0.01, 0.03, -0.05, 0.01, 0.07, -0.02, 0.04, -0.06, 0.0, 0.05, -0.03, 0.02, -0.01,
       0.06, -0.04, 0.03, 0.0, -0.05, 0.04, -0.02, 0.08, 0.01, -0.03, 0.05, -0.01, 0.02, -0.06, 0.07, 0.0,
       -0.03, 0.04, 0.01, -0.04, 0.09, 0.02, -0.02, 0.05, -0.05, 0.03, 0.0, 0.10, -0.03, 0.04, -0.07, 0.02,
       0.06, -0.02, 0.12, 0.01, -0.05, 0.08, 0.03, -0.03, 0.15, 0.0, -0.08, 0.05, 0.11, -0.02, 0.04, -0.10,
       0.09, 0.02, -0.05, 0.17, 0.06, -0.12, 0.03, 0.13, -0.06, 0.07, 0.0, -0.15, 0.10, 0.04, -0.08, 0.19,
       0.02, -0.04, 0.12, -0.11, 0.06, 0.16, -0.02, 0.08, -0.14, 0.03, 0.11, -0.06, 0.05, 0.0,
       0.0, 0.02, -0.02, 0.0, 0.01, -0.02, 0.0, 0.02, -0.01, 0.01, -0.03, 0.0, 0.02, -0.01, 0.01, -0.02, 0.03,
       0.0, -0.02, 0.04, 0.01, -0.04, 0.02, 0.06, -0.03, 0.08, 0.01, -0.04, 0.05, 0.0, 0.09, -0.03, 0.04, 0.01,
       0.13, 0.07, 0.03, -0.07, 0.02, -0.09, 0.10, -0.06, 0.07, 0.05, -0.03, 0.05, -0.04, 0.06, -0.05, 0.04,
       -0.04, 0.05, -0.03, 0.03, -0.02, 0.01]
d_core_x = [3.90, 3.94, 3.98, 4.02, 4.06, 4.10, 4.14, 4.18, 4.22, 4.26, 4.30, 4.34, 4.38, 4.42, 4.46, 4.50, 4.54,
            4.58, 4.62, 4.66, 4.70, 4.74, 4.78, 4.82, 4.86, 4.90, 4.94, 4.98, 5.02, 5.06, 5.10, 5.14, 5.18, 5.22,
            5.26, 5.30, 5.34, 5.38, 5.42, 5.46, 5.50, 5.54, 5.58, 5.62, 5.66, 5.70, 5.74, 5.78, 5.82, 5.86, 5.90,
            5.94, 5.98,
            6.02, 6.06, 6.10, 6.14, 6.18, 6.22, 6.26, 6.30, 6.34, 6.38, 6.42, 6.46, 6.50, 6.54, 6.58, 6.62, 6.66,
            6.70, 6.74, 6.78, 6.82, 6.86, 6.90, 6.94, 6.98, 7.02, 7.06, 7.10, 7.14, 7.18, 7.22, 7.26, 7.30, 7.34,
            7.38, 7.42, 7.46, 7.50, 7.54, 7.58, 7.62, 7.66, 7.70, 7.74, 7.78, 7.82, 7.86, 7.90, 7.94, 7.98]
d_core_y = [0.01, -0.02, 0.03, 0.0, -0.035, 0.02, -0.01, 0.04, -0.025, 0.005,
            0.025, -0.04, 0.012, -0.015, 0.035, -0.005, 0.018, -0.03, 0.045, 0.002,
            -0.02, 0.028, -0.012, 0.008, -0.038, 0.032, -0.002, 0.015, -0.025, 0.042,
            0.0, -0.018, 0.022, -0.045, 0.01, 0.036, -0.008, 0.018, -0.03, 0.048,
            -0.012, 0.006, 0.03, -0.035, 0.014, -0.004, 0.04, -0.022, 0.024, 0.0,
            -0.04, 0.05, 0.012,
            -0.03, 0.06, 0.01, -0.05, 0.03, 0.09, -0.02, 0.04, -0.07, 0.015,
            0.07, -0.04, 0.025, 0.11, -0.01, -0.06, 0.05, 0.0, 0.08, -0.035,
            0.03, -0.08, 0.1, 0.02, -0.025, 0.06, -0.1, 0.04, 0.14, -0.05,
            0.0, 0.09, -0.03, 0.05, -0.12, 0.07, 0.02, 0.12, -0.06, 0.035,
            -0.015, 0.1, -0.09, 0.05, 0.15, -0.04, 0.02, 0.08, -0.07, 0.03]

cut_x = [8.0, 6.7, 3.78, -0.42]
panel_letters = ["(a)", "(b)", "(c)", "(d)"]
panel_bands = ["W1", "W2", "W3", "W4"]
y_tickvals = [[0.30, 0.15, 0.0, -0.15], [0.8, 0.4, 0.0, -0.4], [1.5, 1.0, 0.5, 0.0, -0.5], [1.0, 0.5, 0.0]]
y_ticktext = [["0.30", "0.15", "0.00", "\u22120.15"], ["0.8", "0.4", "0.0", "\u22120.4"],
              ["1.5", "1.0", "0.5", "0.0", "\u22120.5"], ["1.0", "0.5", "0.0"]]
x_tickvals = [0, 2, 4, 6, 8, 10, 12]

# ---------------- layout helpers ----------------
Y_RANGES = [[-0.220, 0.322], [-0.542, 1.018], [-1.0, 1.51], [-0.404, 1.341]]
Y_MINOR = [0.03, 0.1, 0.05, 0.1]
CUT_SPANS = [[-0.198, 0.278], [-0.46, 1.0], [-0.80, 1.30], [-0.33, 1.27]]
W, H = 1175, 662
ML, MR, MT, MB = 102, 7, 8, 61
PW, PH = W - ML - MR, H - MT - MB


def px_x(px):
    return (px - ML) / PW


def px_y(py):
    return (H - MB - py) / PH


fig = make_subplots(rows=4, cols=1, shared_xaxes=True, vertical_spacing=0)

DOT = dict(color="black", size=3, line=dict(width=0))
CORE_DOT = dict(color="#111", size=3.8, line=dict(width=0))
panels = [(a_x, a_y), (b_x, b_y), (c_x, c_y), (d_x, d_y)]
cores = [(a_core_x, a_core_y), (b_core_x, b_core_y), (c_core_x, c_core_y), (d_core_x, d_core_y)]
for i in range(4):
    fig.add_trace(go.Scatter(x=panels[i][0], y=panels[i][1], mode="markers", marker=DOT, showlegend=False,
                             hoverinfo="skip"), row=i + 1, col=1)
    fig.add_trace(go.Scatter(x=cores[i][0], y=cores[i][1], mode="markers", marker=CORE_DOT, showlegend=False,
                             hoverinfo="skip"), row=i + 1, col=1)

fits = [(a_fit_x, a_fit_y, 1), (b_fit_x, b_fit_y, 2)]
for fx, fy, r in fits:
    fig.add_trace(go.Scatter(x=fx, y=fy, mode="lines", line=dict(color="#505050", width=3),
                             showlegend=False, hoverinfo="skip"), row=r, col=1)

bins = [(a_bin_x, a_bin_y, a_bin_err, 1, 6), (b_bin_x, b_bin_y, b_bin_err, 2, 8)]
for bx, by, be, r, sz in bins:
    fig.add_trace(go.Scatter(x=bx, y=by, mode="markers",
                             marker=dict(color="#707070", size=sz, line=dict(color="#3a3a3a", width=1)),
                             error_y=dict(type="data", array=be, color="#808080", thickness=1.5, width=5),
                             showlegend=False, hoverinfo="skip"), row=r, col=1)

AXFONT = dict(family="DejaVu Sans", size=20, color="#222")
fig.update_xaxes(range=[-1.625, 13.56], tickmode="array", tickvals=x_tickvals,
                 ticks="inside", ticklen=13, tickwidth=3, tickcolor="#1a1a1a",
                 showline=True, linecolor="#1a1a1a", linewidth=2, mirror="allticks",
                 showgrid=False, zeroline=False, tickfont=AXFONT,
                 minor=dict(dtick=0.5, tick0=0, ticks="inside", ticklen=6, tickwidth=1.5,
                            tickcolor="#1a1a1a", showgrid=False))
for r in range(1, 4):
    fig.update_xaxes(showticklabels=False, row=r, col=1)
fig.update_xaxes(showticklabels=True, row=4, col=1)

for i in range(4):
    fig.update_yaxes(range=Y_RANGES[i], tickmode="array", tickvals=y_tickvals[i], ticktext=y_ticktext[i],
                     ticks="inside", ticklen=13, tickwidth=3, tickcolor="#1a1a1a",
                     showline=True, linecolor="#1a1a1a", linewidth=2, mirror="allticks",
                     showgrid=False, zeroline=False, tickfont=AXFONT,
                     minor=dict(dtick=Y_MINOR[i], tick0=0, ticks="inside", ticklen=6, tickwidth=1.5,
                                tickcolor="#1a1a1a", showgrid=False),
                     row=i + 1, col=1)

shapes = []
for i in range(4):
    xr = "x" if i == 0 else "x%d" % (i + 1)
    yr = "y" if i == 0 else "y%d" % (i + 1)
    shapes.append(dict(type="line", xref=xr + " domain", x0=0, x1=1, yref=yr, y0=0, y1=0,
                       line=dict(color="#222", width=1.2, dash="dot"), layer="below"))
    shapes.append(dict(type="line", xref=xr, x0=cut_x[i], x1=cut_x[i], yref=yr,
                       y0=CUT_SPANS[i][0], y1=CUT_SPANS[i][1],
                       line=dict(color="#555", width=1.5, dash="7px,5px")))

annotations = []
letter_py = [30, 183, 333, 480]
band_py = [32, 179, 327, 475]
for i in range(4):
    annotations.append(dict(xref="paper", yref="paper", x=px_x(125), y=px_y(letter_py[i]), xanchor="left",
                            yanchor="middle", text=panel_letters[i], showarrow=False,
                            font=dict(family="Liberation Serif", size=18, color="#333")))
    annotations.append(dict(xref="paper", yref="paper", x=px_x(1083), y=px_y(band_py[i]), xanchor="right",
                            yanchor="middle", text="<i>x</i>=" + panel_bands[i], showarrow=False,
                            font=dict(family="DejaVu Sans", size=23, color="#222")))

FFONT = dict(family="Lato", size=16, color="#222")
formulas = [
    ("<i>f</i>(<i>x</i>)=\u22120.1359+0.0396<i>x</i>\u22120.0023<i>x</i><sup>2</sup>",
     "; <i>x</i>\u2208[4.5:8.4]", 137),
    ("<i>f</i>(<i>x</i>)=+1.5777\u22120.3495<i>x</i>+0.0160<i>x</i><sup>2</sup>",
     "; <i>x</i>\u2208[2.8:5.8]", 268),
    ("<i>f</i>(<i>x</i>)=\u22120.3530+0.8826<i>x</i>\u22120.2380<i>x</i><sup>2</sup> +0.0170<i>x</i><sup>3</sup>",
     "; <i>x</i>\u2208[5.0:7.0]", 287),
]
for left, right, py in formulas:
    annotations.append(dict(xref="paper", yref="paper", x=px_x(157), y=px_y(py), xanchor="left",
                            yanchor="middle", text=left, showarrow=False, font=FFONT))
    annotations.append(dict(xref="paper", yref="paper", x=px_x(475), y=px_y(py), xanchor="left",
                            yanchor="middle", text=right, showarrow=False, font=FFONT))

annotations.append(dict(xref="paper", yref="paper", x=0.5, y=px_y(647), xanchor="center", yanchor="middle",
                        text="WISE magnitude", showarrow=False,
                        font=dict(family="DejaVu Sans", size=23, color="#222")))
annotations.append(dict(xref="paper", yref="paper", x=px_x(22), y=px_y(312), xanchor="center",
                        yanchor="middle", textangle=-90,
                        text="<i>K<sub>s</sub></i>\u2212<i>WISE</i> (mag)", showarrow=False,
                        font=dict(family="DejaVu Sans", size=22, color="#222")))

fig.update_layout(width=W, height=H, margin=dict(l=ML, r=MR, t=MT, b=MB),
                  paper_bgcolor="white", plot_bgcolor="white", showlegend=False,
                  shapes=shapes, annotations=annotations)

fig.write_html("out.html")
